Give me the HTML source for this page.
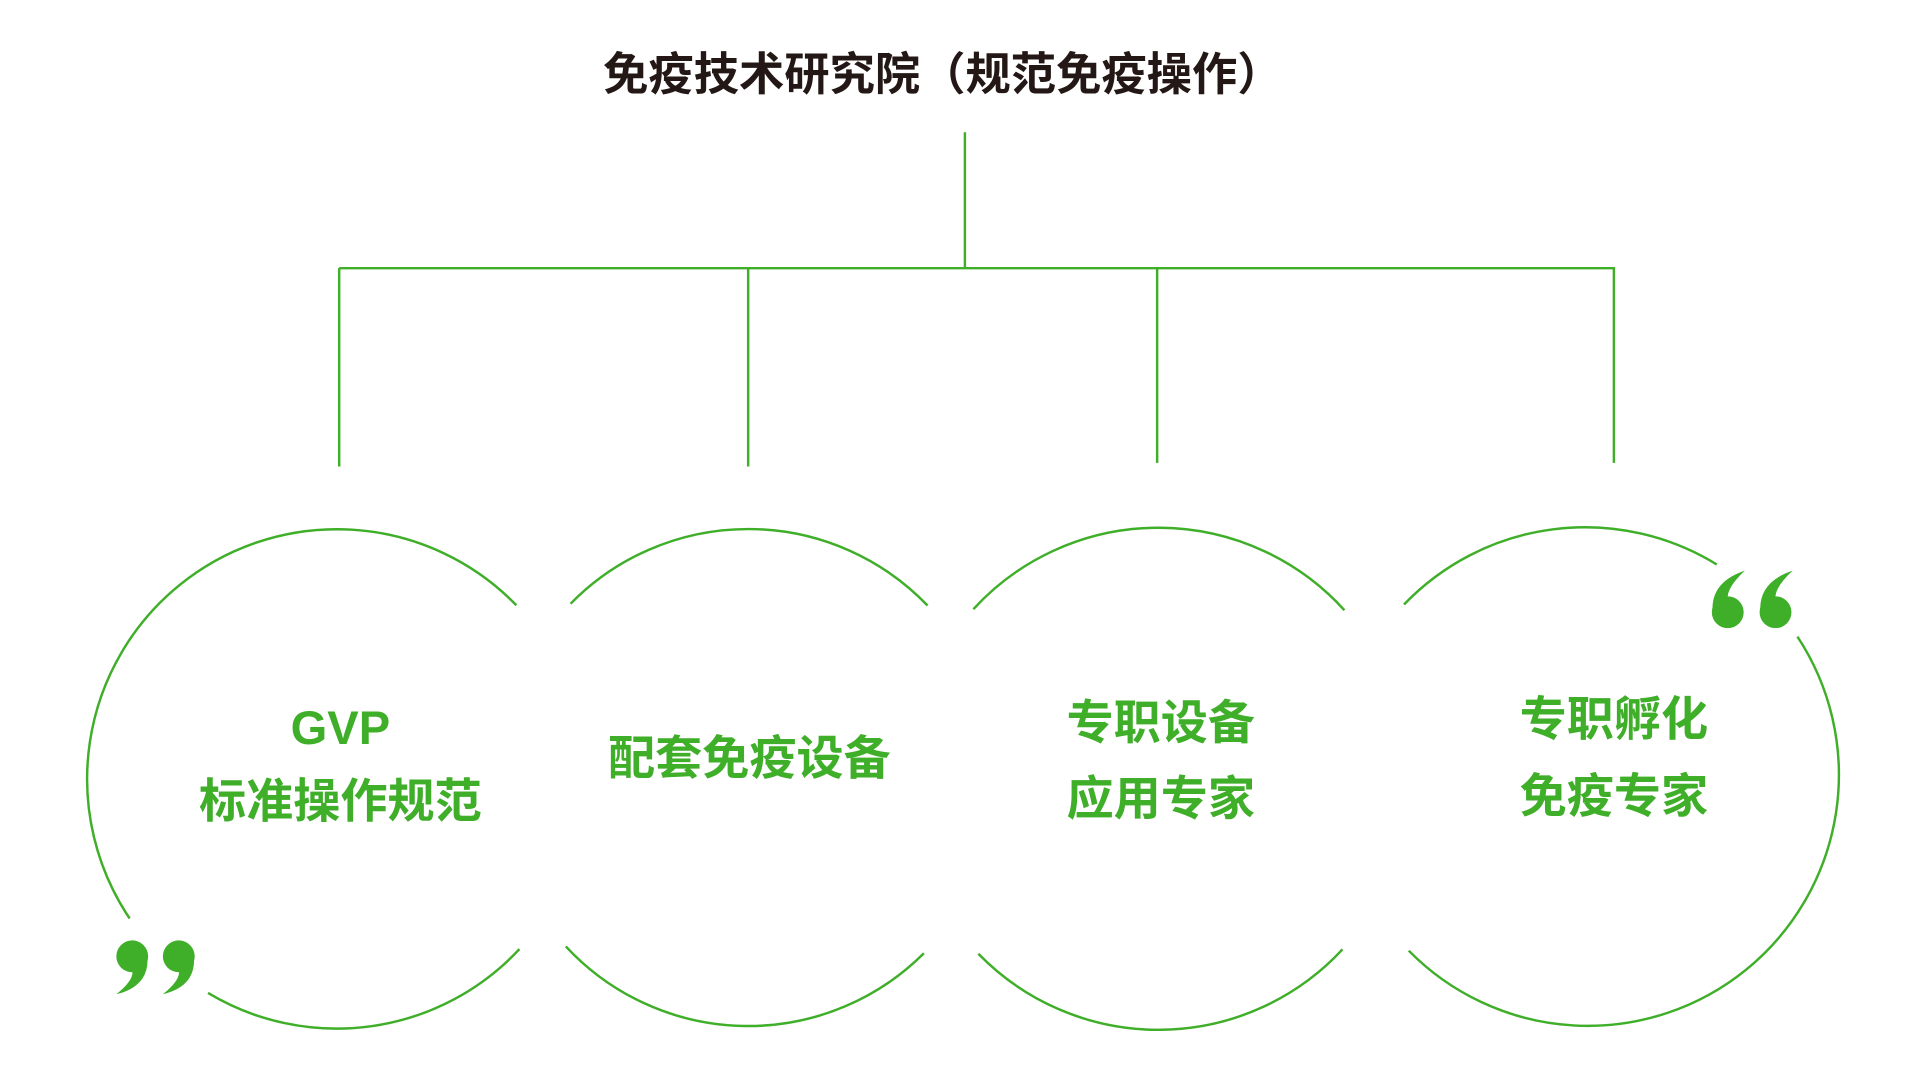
<!DOCTYPE html>
<html><head><meta charset="utf-8"><style>
html,body{margin:0;padding:0;background:#fff;width:1920px;height:1080px;overflow:hidden}
svg{display:block}
text{font-family:"Liberation Sans","Noto Sans CJK SC",sans-serif;font-weight:bold}
</style></head><body>
<svg width="1920" height="1080" viewBox="0 0 1568 882" xmlns="http://www.w3.org/2000/svg">
<rect width="1568" height="882" fill="#fff"/>
<text x="770" y="61" text-anchor="middle" dominant-baseline="central" font-size="37" fill="#231815">免疫技术研究院（规范免疫操作）</text>
<g stroke="#3fae29" stroke-width="2" fill="none">
<line x1="788" y1="108" x2="788" y2="219"/>
<line x1="277" y1="219" x2="1319" y2="219"/>
<line x1="277" y1="219" x2="277" y2="381"/>
<line x1="611" y1="219" x2="611" y2="381"/>
<line x1="945" y1="219" x2="945" y2="378"/>
<line x1="1318" y1="219" x2="1318" y2="378"/>
<path d="M105.9 750.1 A204 204 0 0 1 421.7 494.3"/>
<path d="M424.2 775.1 A204 204 0 0 1 169.9 810.9"/>
<path d="M466 493 A203 203 0 0 1 757.5 494.5"/>
<path d="M754.5 778.5 A203 203 0 0 1 462.1 772.9"/>
<path d="M794.9 497.5 A205 205 0 0 1 1097.9 498.3"/>
<path d="M1096.4 775.3 A205 205 0 0 1 799 778.9"/>
<path d="M1146.6 493.7 A205 205 0 0 1 1402 461"/>
<path d="M1467.9 519.9 A205 205 0 0 1 1150.5 776.4"/>
</g>
<g fill="#3fae29">
<circle cx="108" cy="781" r="13"/>
<path d="M120 778 Q124 805 95 812 Q110 800 108 792 Z"/>
<circle cx="146" cy="781" r="13"/>
<path d="M158 778 Q162 805 133 812 Q148 800 146 792 Z"/>
<circle cx="1411" cy="500" r="13"/>
<path d="M1399 503 Q1395 476 1425 466 Q1410 480 1411 489 Z"/>
<circle cx="1450" cy="500" r="13"/>
<path d="M1438 503 Q1434 476 1464 466 Q1449 480 1450 489 Z"/>
</g>
<g fill="#3fae29" font-size="38.5" text-anchor="middle" dominant-baseline="central">
<text x="278" y="594">GVP</text>
<text x="278" y="654">标准操作规范</text>
<text x="612" y="619">配套免疫设备</text>
<text x="948" y="590">专职设备</text>
<text x="948" y="652">应用专家</text>
<text x="1318" y="587">专职孵化</text>
<text x="1318" y="650">免疫专家</text>
</g>
</svg>
</body></html>
